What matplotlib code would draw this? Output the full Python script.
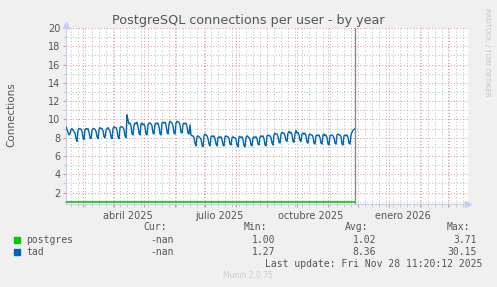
import numpy as np
import matplotlib
matplotlib.use("Agg")
import matplotlib.pyplot as plt
import matplotlib.dates as mdates
from matplotlib.patches import Rectangle

# daily values for "tad", one row per week (Mon..Sun), starting Mon 2025-02-10
tad_start = "2025-02-10"
tad_values = [
    8.8, 9.0, 9.2, 8.9, 8.6, 8.3, 8.4,
    8.9, 9.0, 8.8, 8.7, 8.5, 7.9, 7.6,
    8.8, 9.0, 9.0, 8.9, 8.7, 8.0, 7.8,
    8.9, 9.0, 8.9, 9.0, 8.6, 8.0, 7.9,
    8.8, 9.0, 9.0, 8.9, 8.7, 8.1, 7.9,
    8.9, 9.1, 9.0, 9.0, 8.8, 8.1, 8.0,
    8.8, 9.0, 9.1, 8.9, 8.7, 8.1, 7.9,
    9.0, 9.2, 9.1, 9.1, 8.8, 8.1, 7.9,
    9.1, 9.2, 9.2, 9.1, 8.9, 8.2, 8.0,
    10.5, 9.9, 9.5, 9.6, 9.3, 8.4, 8.3,
    9.4, 9.6, 9.5, 9.7, 9.2, 8.5, 8.3,
    9.5, 9.6, 9.4, 9.5, 9.2, 8.4, 8.3,
    9.4, 9.6, 9.6, 9.5, 9.3, 8.5, 8.4,
    9.5, 9.6, 9.5, 9.6, 9.2, 8.4, 8.3,
    9.6, 9.7, 9.6, 9.7, 9.4, 8.6, 8.4,
    9.5, 9.8, 9.7, 9.6, 9.3, 8.5, 8.4,
    9.6, 9.8, 9.7, 9.7, 9.4, 8.6, 8.5,
    9.5, 9.6, 9.5, 9.6, 9.2, 8.5, 8.4,
    9.4, 8.3, 8.2, 8.2, 8.0, 7.4, 7.1,
    8.1, 8.2, 8.1, 8.0, 7.8, 7.2, 7.0,
    8.2, 8.4, 8.3, 8.2, 7.9, 7.3, 7.1,
    8.1, 8.2, 8.1, 8.2, 7.9, 7.3, 7.1,
    8.0, 8.1, 8.0, 8.1, 7.8, 7.2, 7.1,
    8.1, 8.2, 8.1, 8.1, 7.9, 7.3, 7.2,
    8.0, 8.1, 8.0, 8.0, 7.8, 7.2, 7.0,
    8.1, 8.1, 8.0, 8.1, 7.8, 7.1, 7.0,
    8.0, 8.2, 8.1, 8.0, 7.8, 7.2, 7.1,
    8.0, 8.1, 8.0, 8.1, 7.9, 7.3, 7.2,
    8.1, 8.2, 8.1, 8.2, 7.9, 7.2, 7.1,
    8.2, 8.3, 8.2, 8.2, 8.0, 7.4, 7.2,
    8.3, 8.5, 8.4, 8.4, 8.1, 7.5, 7.4,
    8.4, 8.6, 8.5, 8.5, 8.2, 7.7, 7.6,
    8.5, 8.7, 8.5, 8.6, 8.3, 7.6, 7.5,
    8.4, 8.8, 8.5, 8.6, 8.3, 7.7, 7.6,
    8.4, 8.5, 8.4, 8.5, 8.2, 7.5, 7.4,
    8.3, 8.4, 8.3, 8.3, 8.1, 7.4, 7.3,
    8.2, 8.3, 8.2, 8.3, 8.0, 7.4, 7.3,
    8.3, 8.4, 8.2, 8.3, 8.0, 7.3, 7.2,
    8.2, 8.3, 8.3, 8.2, 8.0, 7.4, 7.3,
    8.3, 8.4, 8.3, 8.3, 8.1, 7.3, 7.2,
    8.2, 8.3, 8.2, 8.3, 8.0, 7.4, 7.3,
    8.3, 8.6, 8.8, 8.9, 9.0,
]

# postgres stays flat at about 1
postgres_dates = ["2025-02-10", "2025-04-01", "2025-06-01", "2025-08-01", "2025-10-01", "2025-11-28"]
postgres_values = [1.0, 1.0, 1.0, 1.0, 1.0, 1.0]

now_date = "2025-11-28"
x_range = ["2025-02-12", "2026-03-21"]
x_label_dates = ["2025-04-15", "2025-07-15", "2025-10-15", "2026-01-15"]
x_labels = ["abril 2025", "julio 2025", "octubre 2025", "enero 2026"]
y_ticks = [2, 4, 6, 8, 10, 12, 14, 16, 18, 20]

legend_names = ["postgres", "tad"]
legend_colors = ["#00cc00", "#0066b3"]
legend_cur = ["-nan", "-nan"]
legend_min = ["1.00", "1.27"]
legend_avg = ["1.02", "8.36"]
legend_max = ["3.71", "30.15"]

W, H = 497, 287
BG = "#f0f0f0"
TXT = "#555555"

plt.rcParams["lines.scale_dashes"] = False


def fx(x):
    return x / W


def fy(y):
    return 1 - y / H


fig = plt.figure(figsize=(W / 100, H / 100), dpi=100, facecolor=BG)
ax = fig.add_axes([fx(66), fy(203.5), fx(468) - fx(66), fy(28) - fy(203.5)])
ax.set_facecolor("white")

tad_dates = np.arange(np.datetime64(tad_start), np.datetime64(tad_start) + len(tad_values))
ax.plot(tad_dates, tad_values, color="#0066b3", lw=1.0, zorder=4)
ax.plot(np.array(postgres_dates, dtype="datetime64[D]"), postgres_values,
        color="#00cc00", lw=1.2, zorder=4)
ax.axvline(np.datetime64(now_date), color="#8a8a8a", lw=1.0, zorder=5)

ax.set_xlim(np.datetime64(x_range[0]), np.datetime64(x_range[1]))
ax.set_ylim(0.8, 20)

# grid: months red, weeks grey; even values red, odd grey
dot = (0, (0.75, 1.5))
ax.xaxis.set_major_locator(mdates.MonthLocator())
ax.xaxis.set_minor_locator(mdates.WeekdayLocator(byweekday=mdates.MO))
ax.set_yticks(y_ticks)
ax.set_yticks(range(1, 20, 2), minor=True)
ax.grid(which="minor", color="#bdbdbd", lw=0.7, linestyle=dot, zorder=1)
ax.grid(which="major", color="#e49494", lw=0.7, linestyle=dot, zorder=2)
ax.set_xticklabels([])
ax.tick_params(axis="x", which="major", length=2, color="#e49494", labelbottom=False)
ax.tick_params(axis="x", which="minor", length=2, color="#c4c4c4")
ax.tick_params(axis="y", which="major", length=2, color="#e49494",
               labelsize=7, labelcolor=TXT, pad=2)
ax.tick_params(axis="y", which="minor", length=2, color="#c4c4c4")

for d, lab in zip(x_label_dates, x_labels):
    ax.text(np.datetime64(d), -0.07, lab, transform=ax.get_xaxis_transform(),
            ha="center", va="center", fontsize=7, color=TXT)

for s in ["top", "right"]:
    ax.spines[s].set_visible(False)
for s in ["left", "bottom"]:
    ax.spines[s].set_color("#c8ccee")
    ax.spines[s].set_linewidth(0.8)

arrow_col = "#c8cdf5"
ax.plot([1.0], [0], marker=">", ms=5, color=arrow_col, transform=ax.transAxes,
        clip_on=False, zorder=6)
ax.plot([0], [1.015], marker="^", ms=5, color=arrow_col, transform=ax.transAxes,
        clip_on=False, zorder=6)

fig.text(fx(248), fy(24), "PostgreSQL connections per user - by year", ha="center",
         va="baseline", fontsize=9.2, color=TXT)
fig.text(fx(11), fy(115), "Connections", rotation=90, ha="center", va="center",
         fontsize=7.5, color=TXT)
fig.text(fx(487), fy(52), "RRDTOOL / TOBI OETIKER", rotation=270, ha="center",
         va="center", fontsize=5, color="#c4c4c4")

mono = "DejaVu Sans Mono"
fs = 7
col_ends = [167, 267, 368, 470]
for hx, h in zip(col_ends, ["Cur:", "Min:", "Avg:", "Max:"]):
    fig.text(fx(hx), fy(230.5), h, ha="right", va="baseline", family=mono, fontsize=fs, color=TXT)

val_ends = [174, 275, 376, 477]
rows_y = [243.3, 255]
for i, name in enumerate(legend_names):
    y = rows_y[i]
    fig.patches.append(Rectangle((fx(14), fy(y - 0.5)), fx(6), 6 / H,
                                 transform=fig.transFigure, color=legend_colors[i]))
    fig.text(fx(26.5), fy(y), name, ha="left", va="baseline", family=mono, fontsize=fs, color=TXT)
    for vx, v in zip(val_ends, [legend_cur[i], legend_min[i], legend_avg[i], legend_max[i]]):
        fig.text(fx(vx), fy(y), v, ha="right", va="baseline", family=mono, fontsize=fs, color=TXT)

fig.text(fx(482), fy(266.7), "Last update: Fri Nov 28 11:20:12 2025", ha="right",
         va="baseline", family=mono, fontsize=fs, color=TXT)
fig.text(fx(248), fy(278.3), "Munin 2.0.75", ha="center", va="baseline",
         fontsize=5.5, color="#cccccc")

fig.savefig("out.png", dpi=100, facecolor=BG)
